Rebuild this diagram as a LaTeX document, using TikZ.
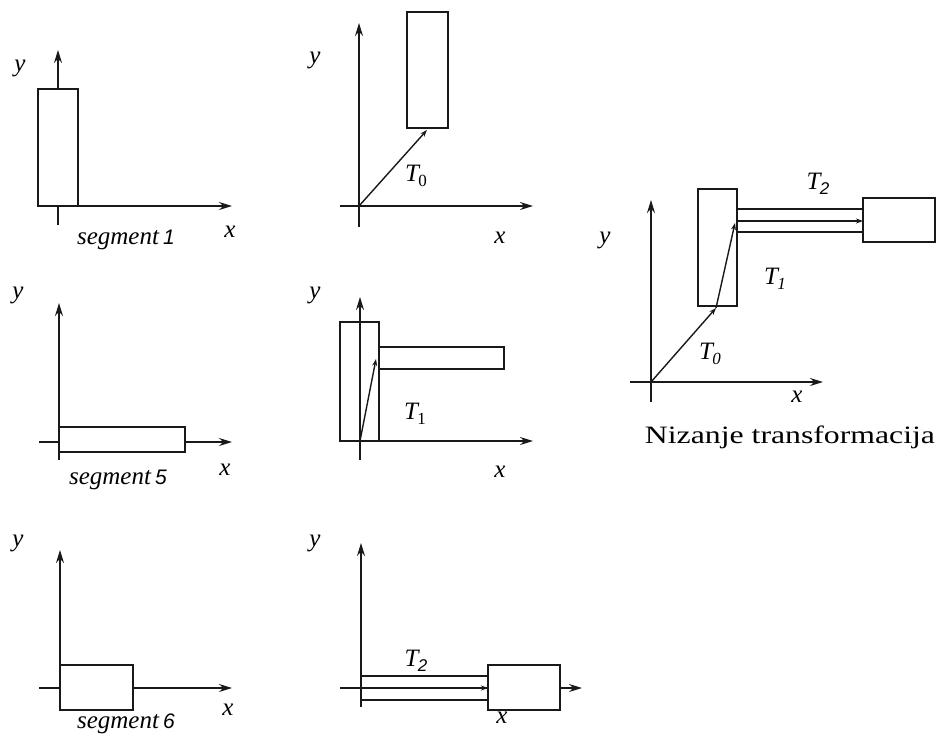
\documentclass[tikz,border=0pt]{standalone}
\usepackage{graphicx}
\usepackage{fontspec}
\setmainfont{Liberation Serif}
\setsansfont{Liberation Sans}
\usetikzlibrary{arrows.meta, positioning}

% T with a lowered index, as in the figure
\newcommand{\Tsub}[1]{\textit{T}\kern-0.5pt\raisebox{-4.5pt}{\fontsize{17}{17}\selectfont #1}}
\newcommand{\seglabel}[1]{\textit{segment}\,{\sffamily\fontsize{21}{21}\selectfont #1}}

\begin{document}
\begin{tikzpicture}[x=1pt, y=-1pt,
  axis/.style={-{Stealth[length=13pt, width=8pt]}, line width=1.5pt, black!90},
  part/.style={draw=black!90, line width=1.8pt},
  vec/.style={-{Stealth[length=7pt, width=5pt]}, line width=1.4pt, black!90},
  lbl/.style={font=\fontsize{25}{25}\selectfont\itshape, inner sep=0pt},
  titletext/.style={font=\fontsize{25}{25}\selectfont, inner sep=0pt}]

  \useasboundingbox (0,0) rectangle (940,737);

  % segment 1
  \coordinate (o1) at (58,206);
  \draw[axis] (58,225) -- (58,50);
  \draw[axis] (38,206) -- (232,206);
  \draw[part, fill=white] (38,89) rectangle (78,206);
  \node[lbl] (y1) at (20,68) {y};
  \node[lbl] (x1) at (230,232) {x};
  \node[lbl] (s1) at (126,240) {\seglabel{1}};

  % T0
  \coordinate (o2) at (359,206);
  \coordinate (e2) at (427,130);
  \draw[axis] (359,227) -- (359,23);
  \draw[axis] (340,206) -- (533,206);
  \draw[part, fill=white] (407,12) rectangle (448,128);
  \draw[vec] (o2) -- (e2);
  \node[lbl] (y2) at (315,60) {y};
  \node[lbl] (x2) at (500,238) {x};
  \node[lbl] (t2) at (416,176) {\Tsub{\upshape 0}};

  % segment 5
  \coordinate (o4) at (59,442);
  \draw[axis] (59,460) -- (59,303);
  \draw[axis] (39,442) -- (232,442);
  \draw[part, fill=white] (59,427) rectangle (185,452);
  \node[lbl] (y4) at (18,295) {y};
  \node[lbl] (x4) at (225,470) {x};
  \node[lbl] (s4) at (118,480) {\seglabel{5}};

  % T1
  \coordinate (o5) at (360,441);
  \coordinate (e5) at (376,359);
  \draw[part] (340,322) rectangle (379,441);
  \draw[part] (379,347) rectangle (504,369);
  \draw[axis] (360,460) -- (360,297);
  \draw[axis] (340,441) -- (533,441);
  \draw[vec] (o5) -- (e5);
  \node[lbl] (y5) at (315,295) {y};
  \node[lbl] (x5) at (500,472) {x};
  \node[lbl] (t5) at (415,414) {\Tsub{\upshape 1}};

  % segment 6
  \coordinate (o6) at (60,688);
  \draw[axis] (60,710) -- (60,550);
  \draw[axis] (39,688) -- (232,688);
  \draw[part, fill=white] (60,665) rectangle (133,710);
  \node[lbl] (y6) at (18,543) {y};
  \node[lbl] (x6) at (228,710) {x};
  \node[lbl] (s6) at (126,724) {\seglabel{6}};

  % T2
  \coordinate (o7) at (361,688);
  \coordinate (e7) at (488,688);
  \draw[axis] (361,707) -- (361,543);
  \draw[axis] (340,688) -- (582,688);
  \draw[part] (361,676) rectangle (488,700);
  \draw[part, fill=white] (488,665) rectangle (560,710);
  \draw[vec] (o7) -- (e7);
  \node[lbl] (y7) at (315,543) {y};
  \node[lbl] (x7) at (502,718) {x};
  \node[lbl] (t7) at (416,661) {\Tsub{\sffamily 2}};

  % chained transformations
  \coordinate (o3) at (651,382);
  \coordinate (a3) at (716,308);
  \coordinate (b3) at (735,223);
  \coordinate (c3) at (738,221);
  \coordinate (d3) at (863,221);
  \draw[axis] (651,402) -- (651,200);
  \draw[axis] (630,382) -- (823,382);
  \draw[part, fill=white] (698,189) rectangle (737,306);
  \draw[part] (737,209) rectangle (863,232);
  \draw[part, fill=white] (863,198) rectangle (935,242);
  \draw[vec] (o3) -- (a3);
  \draw[vec] (a3) -- (b3);
  \draw[vec] (c3) -- (d3);
  \node[lbl] (y3) at (605,240) {y};
  \node[lbl] (x3) at (797,397) {x};
  \node[lbl] (t3a) at (710,354) {\Tsub{\itshape 0}};
  \node[lbl] (t3b) at (775,279) {\Tsub{\itshape 1}};
  \node[lbl] (t3c) at (818,184) {\Tsub{\sffamily 2}};
  \node[titletext] (title) at (790,437) {\scalebox{1.27}[1]{Nizanje transformacija}};
\end{tikzpicture}
\end{document}
